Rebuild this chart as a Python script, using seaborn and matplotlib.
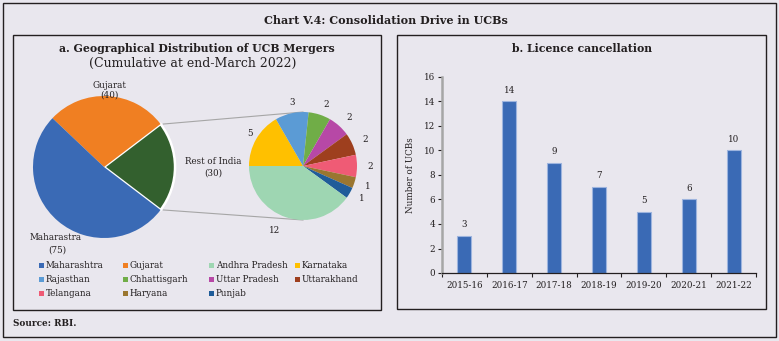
import matplotlib
matplotlib.use("Agg")
import matplotlib.pyplot as plt
from matplotlib.patches import Rectangle
import numpy as np
import pandas as pd
import seaborn as sns

# ---- Panel a: UCB mergers by state (cumulative at end-March 2022) ----
main_labels = ["Rest of India", "Gujarat", "Maharastra"]
main_values = [30, 40, 75]
main_colors = ["#33602E", "#F07F22", "#3A6AB5"]

rest_states = ["Karnataka", "Rajasthan", "Chhattisgarh", "Uttar Pradesh",
               "Uttarakhand", "Telangana", "Haryana", "Punjab", "Andhra Pradesh"]
rest_values = [5, 3, 2, 2, 2, 2, 1, 1, 12]
rest_colors = ["#FFC000", "#5B9BD5", "#70AD47", "#B748A6",
               "#9E3F1E", "#EF5B75", "#9A7630", "#1F5C99", "#9ED6B2"]

legend_states = ["Maharashtra", "Gujarat", "Andhra Pradesh", "Karnataka",
                 "Rajasthan", "Chhattisgarh", "Uttar Pradesh", "Uttarakhand",
                 "Telangana", "Haryana", "Punjab"]
legend_colors = ["#3A6AB5", "#F07F22", "#9ED6B2", "#FFC000",
                 "#5B9BD5", "#70AD47", "#B748A6", "#9E3F1E",
                 "#EF5B75", "#9A7630", "#1F5C99"]

# ---- Panel b: licence cancellations ----
years = ["2015-16", "2016-17", "2017-18", "2018-19", "2019-20", "2020-21", "2021-22"]
cancellations = [3, 14, 9, 7, 5, 6, 10]
y_ticks = [0, 2, 4, 6, 8, 10, 12, 14, 16]

W, H = 779, 341
BG = "#E9E7EE"
INK = "#231F20"
plt.rcParams["font.family"] = ["DejaVu Serif"]

fig = plt.figure(figsize=(W / 100, H / 100), dpi=100, facecolor=BG)

# full-figure overlay in pixel units (y measured upward)
ov = fig.add_axes([0, 0, 1, 1])
ov.set_facecolor("none")


def Y(y):
    return H - y


# frames
ov.add_patch(Rectangle((3, Y(337)), 773, 334, fill=False, ec=INK, lw=1.0))
ov.add_patch(Rectangle((13, Y(310)), 368, 275, fill=False, ec=INK, lw=1.0))
ov.add_patch(Rectangle((397, Y(309)), 369, 274, fill=False, ec=INK, lw=1.0))

ov.text(386, Y(21), "Chart V.4: Consolidation Drive in UCBs", ha="center", va="center",
        fontsize=8.0, fontweight="bold", color=INK)
ov.text(197, Y(49), "a. Geographical Distribution of UCB Mergers", ha="center", va="center",
        fontsize=7.8, fontweight="bold", color=INK)
ov.text(193, Y(63), "(Cumulative at end-March 2022)", ha="center", va="center",
        fontsize=9.0, color=INK)
ov.text(582, Y(49), "b. Licence cancellation", ha="center", va="center",
        fontsize=7.8, fontweight="bold", color=INK)
ov.text(13, Y(323), "Source: RBI.", ha="left", va="center",
        fontsize=6.4, fontweight="bold", color=INK)

# main pie
cx1, cy1, r1 = 104, Y(167), 71
total = sum(main_values)
half = 180 * main_values[0] / total
explode = [0.04, 0, 0]
w1, _ = ov.pie(main_values, colors=main_colors, startangle=-half, center=(cx1, cy1),
               radius=r1, explode=explode, wedgeprops=dict(lw=0))
w1[0].set_edgecolor("white")
w1[0].set_linewidth(1.8)

# secondary pie (breakdown of Rest of India)
cx2, cy2, r2 = 303, Y(166), 54
w2, t2 = ov.pie(rest_values, colors=rest_colors, startangle=180, counterclock=False,
                center=(cx2, cy2), radius=r2, labels=[str(v) for v in rest_values],
                labeldistance=1.2, wedgeprops=dict(lw=0),
                textprops=dict(fontsize=6.3, color=INK))
# the large slice label sits a little further out
lx, ly = t2[-1].get_position()
t2[-1].set_position((cx2 + (lx - cx2) * 1.08 - 12, cy2 + (ly - cy2) * 1.05))

# connector lines between the two pies
sx = cx1 + explode[0] * r1
for s in (1, -1):
    x0 = sx + r1 * np.cos(np.radians(half))
    y0 = cy1 + s * r1 * np.sin(np.radians(half))
    ov.plot([x0, cx2], [y0, cy2 + s * r2], color="#A6A6A6", lw=0.8, zorder=0)

ov.text(109, Y(86), "Gujarat", ha="center", va="center", fontsize=6.3, color=INK)
ov.text(109, Y(95), f"({main_values[1]})", ha="center", va="center", fontsize=6.3, color=INK)
ov.text(56, Y(238), main_labels[2], ha="center", va="center", fontsize=6.3, color=INK)
ov.text(57, Y(250), f"({main_values[2]})", ha="center", va="center", fontsize=6.3, color=INK)
ov.text(213, Y(162), main_labels[0], ha="center", va="center", fontsize=6.3, color=INK)
ov.text(213, Y(173), f"({main_values[0]})", ha="center", va="center", fontsize=6.3, color=INK)

# legend grid
col_x = [39, 123, 209, 295]
row_y = [265, 279, 293]
for i, (name, c) in enumerate(zip(legend_states, legend_colors)):
    r, k = divmod(i, 4)
    x, y = col_x[k], row_y[r]
    ov.add_patch(Rectangle((x, Y(y) - 2.5), 5, 5, color=c, lw=0))
    ov.text(x + 7, Y(y), name, ha="left", va="center", fontsize=6.3, color=INK)

ov.set_xlim(0, W)
ov.set_ylim(0, H)
ov.set_aspect("auto")
ov.axis("off")

# bar chart
x0, x1, yb, yt = 442, 756, 273, 77
ax = fig.add_axes([x0 / W, 1 - yb / H, (x1 - x0) / W, (yb - yt) / H])
ax.set_facecolor("none")
df = pd.DataFrame({"year": years, "n": cancellations})
sns.barplot(data=df, x="year", y="n", ax=ax, color="#3A6AB5", width=0.31,
            edgecolor="#9DB4DE", linewidth=0.8, saturation=1)
ax.bar_label(ax.containers[0], padding=5, fontsize=6.3, color=INK)
ax.set_xlim(-0.5, len(years) - 0.5)
ax.set_ylim(0, 16)
ax.set_yticks(y_ticks)
ax.set_xlabel("")
ax.set_ylabel("Number of UCBs", fontsize=6.3, color=INK, labelpad=6)
for sp in ("top", "right"):
    ax.spines[sp].set_visible(False)
ax.spines["left"].set_color("#A6A6A6")
ax.spines["left"].set_linewidth(1.8)
ax.spines["bottom"].set_color(INK)
ax.spines["bottom"].set_linewidth(0.9)
ax.tick_params(axis="x", which="major", length=0, labelsize=6.3, colors=INK, pad=6)
ax.set_xticks(np.arange(-0.5, len(years)), minor=True)
ax.tick_params(axis="x", which="minor", length=3, width=0.8, color=INK)
ax.tick_params(axis="y", length=3, width=0.8, labelsize=6.3, colors=INK, pad=2)

fig.savefig("out.png", dpi=100, facecolor=BG)
